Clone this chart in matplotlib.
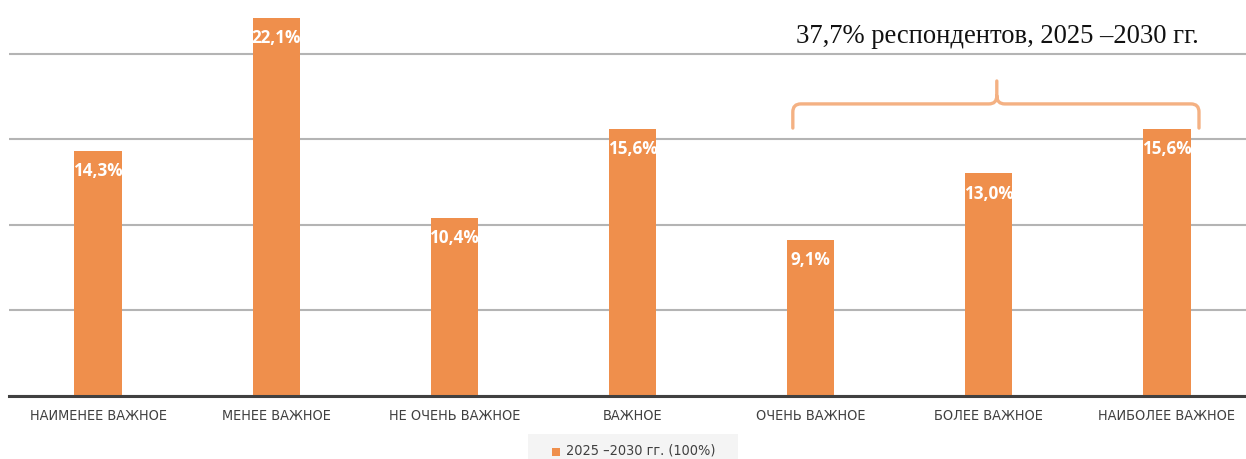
import matplotlib
matplotlib.use("Agg")
import matplotlib.pyplot as plt
from matplotlib.path import Path
from matplotlib.patches import PathPatch, Rectangle

# data
categories = ["НАИМЕНЕЕ ВАЖНОЕ", "МЕНЕЕ ВАЖНОЕ", "НЕ ОЧЕНЬ ВАЖНОЕ", "ВАЖНОЕ",
              "ОЧЕНЬ ВАЖНОЕ", "БОЛЕЕ ВАЖНОЕ", "НАИБОЛЕЕ ВАЖНОЕ"]
values = [14.3, 22.1, 10.4, 15.6, 9.1, 13.0, 15.6]
labels = ["14,3%", "22,1%", "10,4%", "15,6%", "9,1%", "13,0%", "15,6%"]
series_name = "2025 –2030 гг. (100%)"
note = "37,7% респондентов, 2025 –2030 гг."
yticks = [0, 5, 10, 15, 20]

bar_color = "#ef8f4c"
brace_color = "#f4b183"
text_color = "#404040"
tick_font = dict(family="DejaVu Sans", stretch="condensed")

fig = plt.figure(figsize=(12.46, 4.59), dpi=100)
ax = fig.add_axes([9 / 1246, 63 / 459, 1247 / 1246, 396 / 459])

x = list(range(len(categories)))
ax.set_axisbelow(True)
ax.bar(x, values, width=0.265, color=bar_color, zorder=2)
ax.set_xlim(-0.5, 6.5)
ax.set_ylim(0, 23.13)
ax.set_yticks(yticks)
ax.yaxis.grid(True, color="#b4b4b4", linewidth=1.5)
ax.tick_params(axis="y", length=0, labelleft=False)
ax.tick_params(axis="x", length=0, pad=9)
ax.set_xticks(x)
ax.set_xticklabels(categories, color=text_color, fontsize=10.4, **tick_font)
for s in ["top", "right", "left"]:
    ax.spines[s].set_visible(False)
ax.spines["bottom"].set_color("#404040")
ax.spines["bottom"].set_linewidth(2.2)
ax.spines["bottom"].set_zorder(3)

for xi, v, lab in zip(x, values, labels):
    ax.annotate(lab, (xi, v), xytext=(0, -14.5), textcoords="offset points",
                ha="center", va="center", color="white", fontsize=12.3,
                fontweight="bold", family="Open Sans", zorder=4)

# curly brace over the last three bars
xl, xr, xc = 3.90, 6.18, 5.045
yb, yh, yt = 15.65, 17.06, 18.4
rx, ry = 0.045, 0.47
verts = [(xl, yb), (xl, yh - ry), (xl, yh), (xl + rx, yh),
         (xc - rx, yh), (xc, yh), (xc, yh + ry), (xc, yt),
         (xc, yh + ry), (xc, yh), (xc + rx, yh),
         (xr - rx, yh), (xr, yh), (xr, yh - ry), (xr, yb)]
codes = [Path.MOVETO, Path.LINETO, Path.CURVE3, Path.CURVE3,
         Path.LINETO, Path.CURVE3, Path.CURVE3, Path.LINETO,
         Path.MOVETO, Path.CURVE3, Path.CURVE3,
         Path.LINETO, Path.CURVE3, Path.CURVE3, Path.LINETO]
ax.add_patch(PathPatch(Path(verts, codes), fill=False, edgecolor=brace_color,
                       linewidth=2.4, capstyle="round", joinstyle="round", zorder=3))

fig.text(997 / 1246, 1 - 43 / 459, note, ha="center", va="baseline",
         family="Liberation Serif", fontsize=19.2, color="#111111")

# legend box at the bottom
fig.patches.append(Rectangle((528 / 1246, 0), 210 / 1246, 25 / 459,
                             transform=fig.transFigure, facecolor="#f4f4f4",
                             edgecolor="none"))
fig.patches.append(Rectangle((552 / 1246, 1 - 456 / 459), 8 / 1246, 8 / 459,
                             transform=fig.transFigure, facecolor=bar_color,
                             edgecolor="none"))
fig.text(566 / 1246, 1 - 451 / 459, series_name, ha="left", va="center",
         color=text_color, fontsize=10.4, **tick_font)

fig.savefig("out.png", dpi=100)
